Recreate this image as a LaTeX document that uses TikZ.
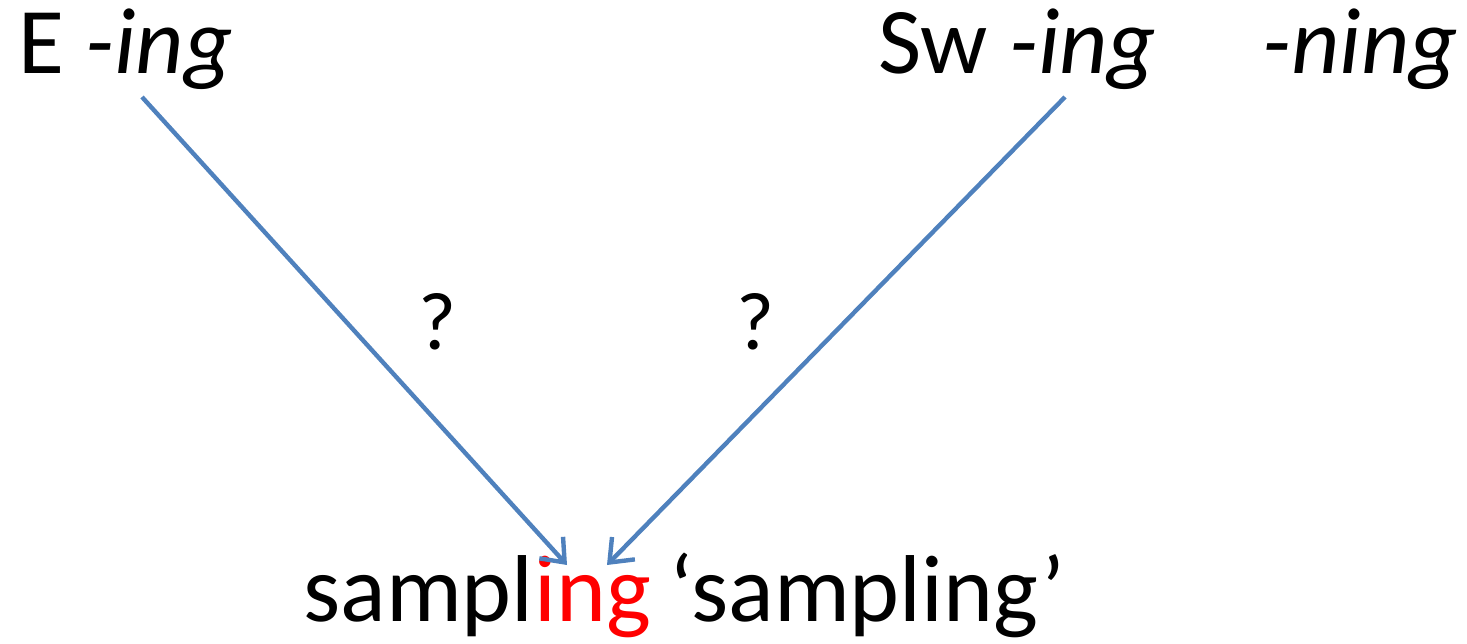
\documentclass[tikz,border=0pt]{standalone}
\usepackage{xcolor}
\usepackage{fontspec}
\setmainfont{Carlito}
\usetikzlibrary{arrows.meta, positioning}
\definecolor{linkblue}{RGB}{79,129,189}
\tikzstyle{arrow} = [line width=2.2pt, linkblue, -{Straight Barb[length=10pt, width=16pt]}]

\begin{document}
\begin{tikzpicture}[
    x=0.5pt, y=-0.5pt,
    word/.style={inner sep=0pt, anchor=base west, font=\fontsize{47}{56}\selectfont},
    target/.style={word, font=\fontsize{47.5}{57}\selectfont},
    query/.style={inner sep=0pt, anchor=base, font=\fontsize{41}{48}\selectfont}
  ]
    \useasboundingbox (0,0) rectangle (1467,643);

    % Sources
    \node[word] (eing) at (18,73) {E \textit{-ing}};
    \node[word] (swing) at (878,73) {Sw \textit{-ing}};
    \node[word] (swning) at (1262,73) {\textit{-ning}};

    % Target word
    \node[target] (sampl) at (303,621) {sampl};
    \node[target, red, right=0pt of sampl.base east, anchor=base west] (ing) {ing};
    \node[target, right=9pt of ing.base east, anchor=base west] (gloss) {‘sampling’};

    % Question marks
    \node[query] (q1) at (437,349) {?};
    \node[query] (q2) at (755,349) {?};

    % Arrows
    \coordinate (estart) at (142,97);
    \coordinate (swstart) at (1065,97);
    \coordinate (etip) at (567,565);
    \coordinate (swtip) at (607,565);
    \draw[arrow] (estart) -- (etip);
    \draw[arrow] (swstart) -- (swtip);
\end{tikzpicture}
\end{document}
